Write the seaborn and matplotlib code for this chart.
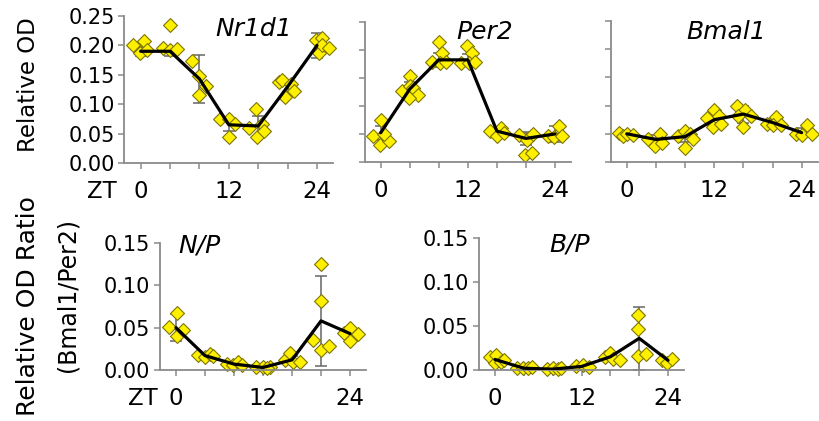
import seaborn as sns
import matplotlib.pyplot as plt
import numpy as np

ZT = [0, 4, 8, 12, 16, 20, 24]
ZT_LABELS = ['0', '', '', '12', '', '', '24']

# individual samples (time in h, relative OD)
nr1d1_t = [-1.0, 0.4, -0.1, 0.8, 3.1, 4.0, 4.0, 4.9, 7.0, 7.9, 8.9, 8.0,
           10.8, 12.0, 12.9, 12.0, 14.8, 15.7, 15.8, 16.5, 16.8,
           18.8, 19.2, 19.7, 20.4, 20.8, 23.8, 24.2, 24.7, 24.7, 25.6]
nr1d1_v = [0.201, 0.207, 0.187, 0.192, 0.195, 0.235, 0.192, 0.194, 0.174, 0.148, 0.131, 0.115,
           0.075, 0.075, 0.067, 0.045, 0.059, 0.092, 0.045, 0.067, 0.055,
           0.137, 0.141, 0.113, 0.134, 0.122, 0.210, 0.187, 0.213, 0.201, 0.195]
nr1d1_mean = [0.190, 0.190, 0.143, 0.065, 0.063, 0.130, 0.200]
nr1d1_sd = [0.008, 0.008, 0.041, 0.010, 0.017, 0.010, 0.021]

per2_t = [-1.0, 0.0, -0.1, 1.1, 0.4, 2.9, 4.0, 4.0, 4.4, 5.1, 3.9,
          7.0, 8.0, 8.5, 8.2, 9.0, 11.0, 11.9, 12.6, 12.1, 13.0,
          15.1, 16.0, 16.5, 17.0, 19.1, 20.1, 20.9, 19.9, 20.8, 23.1, 23.8, 24.5, 25.0]
per2_v = [0.046, 0.075, 0.031, 0.037, 0.050, 0.126, 0.153, 0.136, 0.131, 0.120, 0.114,
          0.179, 0.214, 0.194, 0.176, 0.179, 0.177, 0.206, 0.194, 0.176, 0.178,
          0.056, 0.047, 0.060, 0.052, 0.049, 0.040, 0.050, 0.013, 0.016, 0.046, 0.045, 0.065, 0.046]
per2_mean = [0.052, 0.130, 0.182, 0.182, 0.055, 0.042, 0.050]
per2_sd = [0.012, 0.012, 0.012, 0.010, 0.005, 0.011, 0.014]

bmal1_t = [-1.1, -0.5, 0.1, 0.9, 2.9, 3.9, 4.5, 4.9, 7.1, 8.0, 8.0, 8.7, 9.1,
           11.0, 12.0, 11.9, 12.6, 13.0, 15.1, 16.0, 16.2, 15.3, 17.1,
           19.2, 20.5, 20.1, 21.2, 23.2, 24.1, 24.7, 25.4]
bmal1_v = [0.052, 0.046, 0.049, 0.047, 0.040, 0.028, 0.049, 0.033, 0.046, 0.055, 0.025, 0.049, 0.041,
           0.078, 0.093, 0.062, 0.081, 0.068, 0.099, 0.062, 0.093, 0.081, 0.081,
           0.068, 0.080, 0.066, 0.065, 0.050, 0.047, 0.065, 0.049]
bmal1_mean = [0.050, 0.040, 0.045, 0.075, 0.085, 0.070, 0.052]
bmal1_sd = [0.004, 0.008, 0.010, 0.010, 0.015, 0.007, 0.008]

np_t = [-0.9, 0.1, 0.1, 1.0, 3.1, 4.0, 4.7, 5.1, 7.0, 7.9, 8.6, 9.1,
        11.1, 12.0, 13.0, 12.5, 15.0, 15.7, 16.2, 17.1,
        18.9, 20.0, 20.0, 20.0, 21.1, 23.1, 24.0, 24.0, 25.1]
np_v = [0.051, 0.067, 0.040, 0.047, 0.018, 0.015, 0.019, 0.017, 0.007, 0.006, 0.010, 0.006,
        0.004, 0.003, 0.004, 0.002, 0.012, 0.020, 0.009, 0.009,
        0.035, 0.125, 0.081, 0.024, 0.028, 0.044, 0.050, 0.034, 0.043]
np_mean = [0.050, 0.017, 0.007, 0.003, 0.012, 0.058, 0.043]
np_sd = [0.016, 0.002, 0.002, 0.001, 0.005, 0.053, 0.007]

bp_t = [-0.7, 0.0, 0.2, 0.9, 1.2, 3.0, 3.9, 4.6, 5.1, 7.2, 8.1, 8.8, 9.2,
        11.3, 12.2, 13.1, 15.2, 15.9, 16.4, 17.3, 19.9, 19.9, 19.9, 21.0, 23.1, 23.8, 24.5]
bp_v = [0.015, 0.008, 0.017, 0.009, 0.011, 0.002, 0.002, 0.002, 0.003, 0.001, 0.002, 0.001, 0.002,
        0.004, 0.006, 0.003, 0.015, 0.019, 0.013, 0.011, 0.062, 0.047, 0.016, 0.018, 0.011, 0.008, 0.013]
bp_mean = [0.012, 0.002, 0.001, 0.004, 0.015, 0.036, 0.011]
bp_sd = [0.004, 0.001, 0.001, 0.001, 0.003, 0.036, 0.002]

W, H = 820, 421
YELLOW = '#fff000'
EDGE = '#7d7500'
GREY = '#8a8a8a'

sns.set_style('ticks')
plt.rcParams['font.family'] = ['DejaVu Sans']
plt.rcParams['text.color'] = 'black'
plt.rcParams['xtick.labelcolor'] = 'black'
plt.rcParams['ytick.labelcolor'] = 'black'

fig = plt.figure(figsize=(W / 100, H / 100), dpi=100)


def add_axes(left, top, right, bottom):
    return fig.add_axes([left / W, 1 - bottom / H, (right - left) / W, (bottom - top) / H])


def draw_panel(ax, t, v, mean, sd, ymax, title, tx, ty, ylabels=True, zt_gap=None):
    ax.errorbar(ZT, mean, yerr=sd, fmt='none', ecolor='#666666', elinewidth=1.1,
                capsize=4, capthick=1.1, zorder=1)
    sns.scatterplot(x=t, y=v, marker='D', s=50, color=YELLOW, edgecolor=EDGE,
                    linewidth=0.8, ax=ax, zorder=2, clip_on=False)
    sns.lineplot(x=ZT, y=mean, color='black', linewidth=2.3, ax=ax, zorder=3)

    ax.set_xlim(-2.2, 26.2)
    ax.set_ylim(0, ymax)
    ax.set_xticks(ZT)
    ax.set_xticklabels(ZT_LABELS, fontsize=16.5)
    yt = np.arange(0, ymax + 0.001, 0.05)
    ax.set_yticks(yt)
    if ylabels:
        ax.set_yticklabels(['{:.2f}'.format(y) for y in yt], fontsize=15)
    else:
        ax.set_yticklabels([])
    ax.tick_params(axis='both', direction='out', length=4, width=1.1, color=GREY, pad=3)
    ax.tick_params(axis='x', pad=8)
    for s in ['top', 'right']:
        ax.spines[s].set_visible(False)
    for s in ['left', 'bottom']:
        ax.spines[s].set_color(GREY)
        ax.spines[s].set_linewidth(1.3)
    ax.text(tx, ty, title, transform=ax.transAxes, fontsize=18, style='italic',
            ha='center', va='center')
    if zt_gap is not None:
        # same vertical offset as the tick labels (length 4 + pad 8 points)
        ax.annotate('ZT', xy=(0, 0), xycoords=('data', 'axes fraction'),
                    xytext=(-zt_gap * 0.72, -12), textcoords='offset points',
                    ha='right', va='top', fontsize=16.5)


ax1 = add_axes(124.5, 16, 333.2, 163)
draw_panel(ax1, nr1d1_t, nr1d1_v, nr1d1_mean, nr1d1_sd, 0.25, 'Nr1d1', 0.62, 0.91, zt_gap=24)

ax2 = add_axes(364.7, 21.7, 571, 162)
draw_panel(ax2, per2_t, per2_v, per2_mean, per2_sd, 0.25, 'Per2', 0.58, 0.93, ylabels=False)

ax3 = add_axes(610.7, 21, 817.7, 162)
draw_panel(ax3, bmal1_t, bmal1_v, bmal1_mean, bmal1_sd, 0.25, 'Bmal1', 0.56, 0.92, ylabels=False)

ax4 = add_axes(160, 243, 366, 370)
draw_panel(ax4, np_t, np_v, np_mean, np_sd, 0.15, 'N/P', 0.19, 0.98, zt_gap=18)

ax5 = add_axes(479.1, 238, 683.9, 370)
draw_panel(ax5, bp_t, bp_v, bp_mean, bp_sd, 0.15, 'B/P', 0.44, 0.95)

fig.text(29 / W, 1 - 85 / H, 'Relative OD', rotation=90, fontsize=16.5,
         ha='center', va='center')
fig.text(28 / W, 1 - 306 / H, 'Relative OD Ratio', rotation=90, fontsize=18,
         ha='center', va='center')
fig.text(68 / W, 1 - 295 / H, '(Bmal1/Per2)', rotation=90, fontsize=17,
         ha='center', va='center')

fig.savefig('out.png', dpi=100)
